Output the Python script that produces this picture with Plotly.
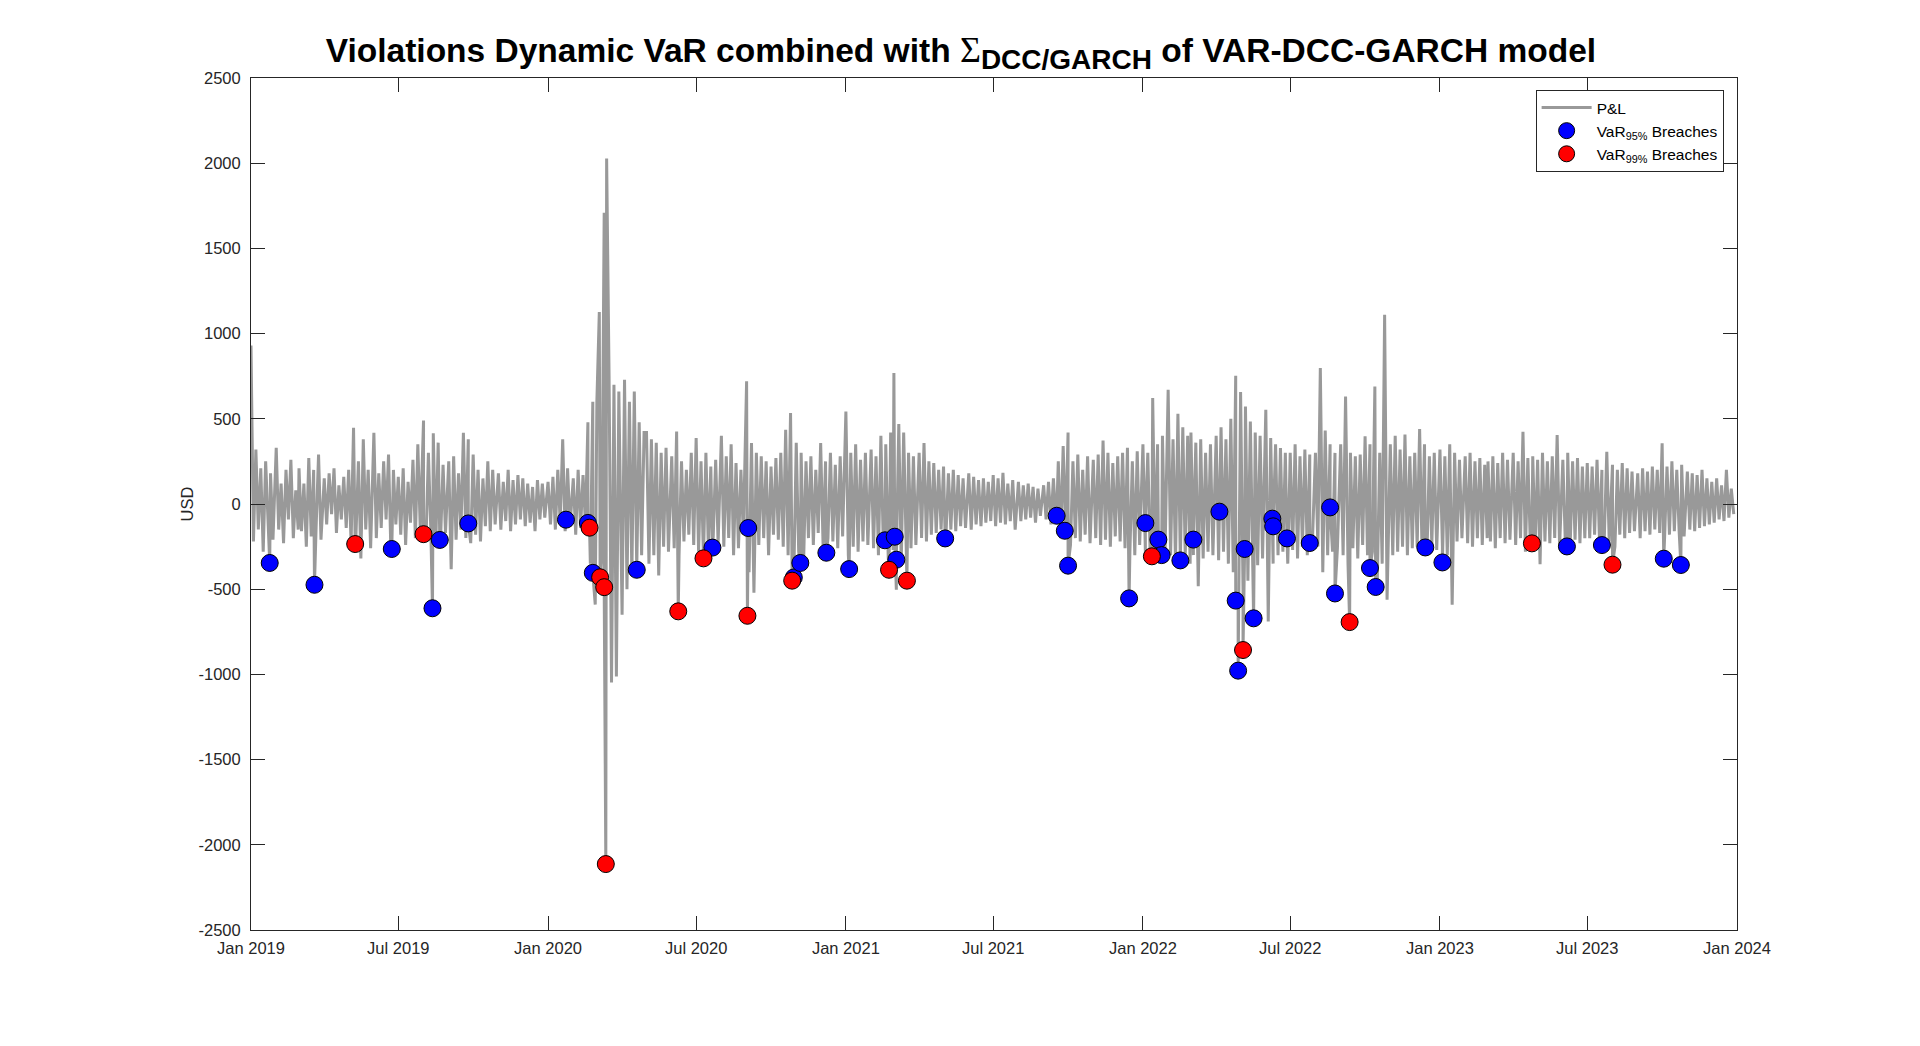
import pandas as pd
import plotly.graph_objects as go

# ---------------- P&L (10 readings / month)
pnl_2019 = [
    [930, -220, 320, -150, 210, -280, 250, -120, 180, -210],
    [330, -150, 120, -230, 200, -90, 260, -200, 80, -150],
    [210, -160, 120, -250, 270, -190, 200, -140, 290, -210],
    [150, -120, 180, -60, 210, -170, 110, -90, 160, -140],
    [200, -230, 448, -180, 250, -320, 380, -150, 200, -260],
    [418, -200, 180, -140, 250, -90, 290, -300, 200, -120],
    [160, -180, 210, -240, 130, -110, 260, -200, 350, -150],
    [490, -220, 300, -160, 415, -250, 360, -200, 230, -170],
    [250, -383, 280, -210, 180, -150, 418, -200, 380, -230],
    [290, -180, 200, -220, 150, -130, 250, -160, 200, -120],
    [180, -150, 130, -100, 200, -160, 140, -120, 170, -90],
    [150, -130, 120, -110, 100, -160, 140, -90, 120, -80],
]
pnl_2020 = [
    [130, -120, 160, -150, 200, -110, 380, -160, 210, -130],
    [150, -180, 200, -140, 170, -120, 480, -350, 600, -590],
    [600, 1127, -300, 1709, 2027, 750, -1047, 700, -1012, 660],
    [-650, 729, -500, 600, -420, 660, -380, 480, -300, 420],
    [420, -350, 380, -300, 360, -420, 300, -250, 330, -280],
    [280, -260, 426, -300, 250, -220, 200, -180, 300, -240],
    [387, -280, 250, -200, 300, -260, 220, -190, 260, -230],
    [400, -250, 280, -200, 350, -300, 240, -260, 200, -180],
    [720, -400, 358, -520, 300, -240, 280, -200, 250, -300],
    [220, -180, 270, -210, 300, -250, 436, -300, 534, -380],
    [360, -280, 300, -350, 250, -200, 280, -240, 200, -170],
    [358, -250, 250, -200, 300, -220, 230, -260, 280, -190],
]
pnl_2021 = [
    [543, -300, 300, -250, 350, -280, 260, -220, 300, -240],
    [320, -260, 280, -300, 400, -250, 350, -310, 420, -270],
    [769, -503, 470, -350, 420, -380, 300, -260, 280, -240],
    [300, -200, 358, -220, 250, -180, 240, -170, 200, -150],
    [220, -180, 180, -150, 200, -160, 170, -130, 150, -140],
    [180, -150, 160, -120, 140, -130, 150, -110, 130, -100],
    [170, -130, 150, -110, 183, -120, 120, -100, 140, -150],
    [130, -100, 110, -90, 120, -80, 100, -110, 90, -70],
    [110, -90, 130, -120, 150, -100, 250, -200, 340, -180],
    [420, -240, 250, -200, 290, -220, 200, -180, 280, -230],
    [260, -200, 290, -240, 373, -210, 300, -250, 240, -190],
    [280, -220, 300, -260, 330, -280, 250, -300, 310, -240],
]
pnl_2022 = [
    [350, -280, 300, -320, 622, -300, 350, -250, 400, -330],
    [671, -300, 380, -340, 530, -280, 450, -310, 400, -350],
    [420, -300, 360, -483, 380, -320, 300, -280, 350, -300],
    [400, -330, 450, -280, 380, -350, 500, -400, 753, -600],
    [657, -500, 572, -450, 484, -380, 420, -360, 400, -320],
    [553, -689, 387, -350, 350, -300, 329, -280, 300, -350],
    [300, -270, 350, -320, 280, -250, 320, -300, 290, -260],
    [300, -250, 798, -400, 431, -300, 350, -280, 300, -260],
    [350, -300, 631, -350, 300, -260, 280, -320, 290, -240],
    [397, -300, 350, -280, 690, -450, 300, -350, 1111, -562],
    [350, -300, 400, -280, 320, -250, 408, -300, 280, -260],
    [300, -250, 440, -280, 350, -300, 280, -240, 300, -270],
]
pnl_2023 = [
    [320, -250, 280, -300, 350, -591, 300, -220, 260, -200],
    [280, -230, 300, -250, 250, -200, 270, -240, 230, -200],
    [250, -220, 280, -260, 240, -200, 300, -230, 260, -210],
    [300, -240, 250, -200, 424, -280, 270, -230, 280, -250],
    [260, -353, 300, -220, 250, -230, 280, -200, 405, -250],
    [260, -220, 300, -240, 250, -210, 270, -230, 220, -200],
    [240, -200, 220, -180, 260, -210, 200, -190, 307, -220],
    [230, -250, 200, -180, 240, -200, 210, -170, 190, -160],
    [180, -200, 210, -160, 190, -180, 220, -150, 200, -170],
    [357, -200, 220, -180, 250, -160, 200, -170, 230, -190],
    [190, -150, 180, -160, 170, -140, 200, -130, 150, -120],
    [130, -110, 150, -90, 110, -100, 200, -80, 90, -60],
]
pnl_years = {2019: pnl_2019, 2020: pnl_2020, 2021: pnl_2021, 2022: pnl_2022, 2023: pnl_2023}

# ---------------- VaR breaches
var95_dates = ["2019-01-24", "2019-03-20", "2019-06-23", "2019-08-12", "2019-08-21", "2019-09-25",
               "2020-01-23", "2020-02-19", "2020-02-25", "2020-04-19", "2020-07-21", "2020-09-03",
               "2020-10-29", "2020-11-06", "2020-12-08", "2021-01-05", "2021-02-18", "2021-03-02",
               "2021-03-04", "2021-05-03", "2021-09-17", "2021-09-27", "2021-10-01", "2021-12-15",
               "2022-01-04", "2022-01-20", "2022-01-24", "2022-02-16", "2022-03-04", "2022-04-05",
               "2022-04-25", "2022-04-28", "2022-05-06", "2022-05-17", "2022-06-09", "2022-06-10",
               "2022-06-27", "2022-07-25", "2022-08-19", "2022-08-25", "2022-10-07", "2022-10-14",
               "2022-12-14", "2023-01-04", "2023-06-06", "2023-07-19", "2023-10-03", "2023-10-24"]
var95_vals = [-346, -474, -264, -612, -211, -114,
              -92, -111, -404, -386, -256, -141,
              -431, -346, -286, -382, -213, -192,
              -327, -202, -69, -157, -362, -554,
              -112, -209, -300, -331, -209, -45,
              -567, -978, -264, -671, -86, -131,
              -202, -229, -20, -525, -376, -487,
              -255, -343, -249, -241, -321, -358]

var99_dates = ["2019-05-09", "2019-08-01", "2020-02-21", "2020-03-05", "2020-03-10", "2020-03-12",
               "2020-06-09", "2020-07-10", "2020-09-02", "2020-10-27", "2021-02-23", "2021-03-17",
               "2022-01-12", "2022-05-04", "2022-09-12", "2023-04-24", "2023-08-01"]
var99_vals = [-235, -177, -139, -430, -488, -2113,
              -630, -319, -656, -450, -386, -450,
              -307, -857, -693, -231, -356]

y_ticks = [-2500, -2000, -1500, -1000, -500, 0, 500, 1000, 1500, 2000, 2500]

# ---------------- assemble the P&L line (grid readings + breach days)
rows = []
for yr, months in pnl_years.items():
    for m, vals in enumerate(months, start=1):
        start = pd.Timestamp(year=yr, month=m, day=1)
        for k, v in enumerate(vals):
            rows.append((start + pd.Timedelta(days=3 * k), v))
for d, v in zip(var95_dates + var99_dates, var95_vals + var99_vals):
    rows.append((pd.Timestamp(d), v))
df = pd.DataFrame(rows, columns=["Date", "PnL"]).sort_values("Date", kind="stable")

FONT = "Arial, Liberation Sans, sans-serif"
AX = "#262626"

fig = go.Figure()
fig.add_trace(go.Scatter(x=df["Date"], y=df["PnL"], mode="lines", name="P&L",
                         line=dict(color="#999999", width=3)))
fig.add_trace(go.Scatter(x=pd.to_datetime(var95_dates), y=var95_vals, mode="markers",
                         name="VaR<sub>95%</sub> Breaches",
                         marker=dict(color="#0000FF", size=17, line=dict(color="black", width=1))))
fig.add_trace(go.Scatter(x=pd.to_datetime(var99_dates), y=var99_vals, mode="markers",
                         name="VaR<sub>99%</sub> Breaches",
                         marker=dict(color="#FF0000", size=17, line=dict(color="black", width=1))))

title_txt = ("<b>Violations Dynamic VaR combined with "
             "<span style='font-family:Times New Roman, Liberation Serif, serif;"
             "font-weight:normal;font-size:36px'>Σ</span>"
             "<sub><span style='font-size:28px'>DCC/GARCH</span></sub>"
             " of VAR-DCC-GARCH model</b>")

# page body has an 8px margin: figure kept inside the 1920x1046 window
fig.update_layout(
    width=1904, height=1030,
    paper_bgcolor="white", plot_bgcolor="white",
    margin=dict(l=243, r=175, t=70, b=108),
    font=dict(family=FONT, size=16.5, color=AX),
    title=dict(text=title_txt, x=0.5005, xanchor="center", y=0.959, yref="container",
               yanchor="middle", font=dict(family=FONT, size=33.5, color="black")),
    showlegend=True,
    legend=dict(x=0.991, xanchor="right", y=0.986, yanchor="top",
                bgcolor="white", bordercolor="#262626", borderwidth=1,
                font=dict(family=FONT, size=15.5, color="black"),
                itemwidth=50, tracegroupgap=0),
    xaxis=dict(type="date", range=["2019-01-01", "2024-01-01"], tick0="2019-01-01", dtick="M6",
               tickformat="%b %Y", ticks="inside", ticklen=14, tickcolor=AX, mirror="allticks",
               showline=True, linecolor=AX, linewidth=1, showgrid=False, zeroline=False,
               ticklabelstandoff=3, tickfont=dict(size=16.5, color=AX)),
    yaxis=dict(range=[-2500, 2500], tickmode="array", tickvals=y_ticks,
               ticktext=[str(v) for v in y_ticks], ticks="inside", ticklen=14, tickcolor=AX,
               mirror="allticks", showline=True, linecolor=AX, linewidth=1, showgrid=False,
               zeroline=False, ticklabelstandoff=6, tickfont=dict(size=16.5, color=AX),
               title=dict(text="USD", standoff=0, font=dict(size=16.5, color=AX))),
)

fig.write_html("out.html")
